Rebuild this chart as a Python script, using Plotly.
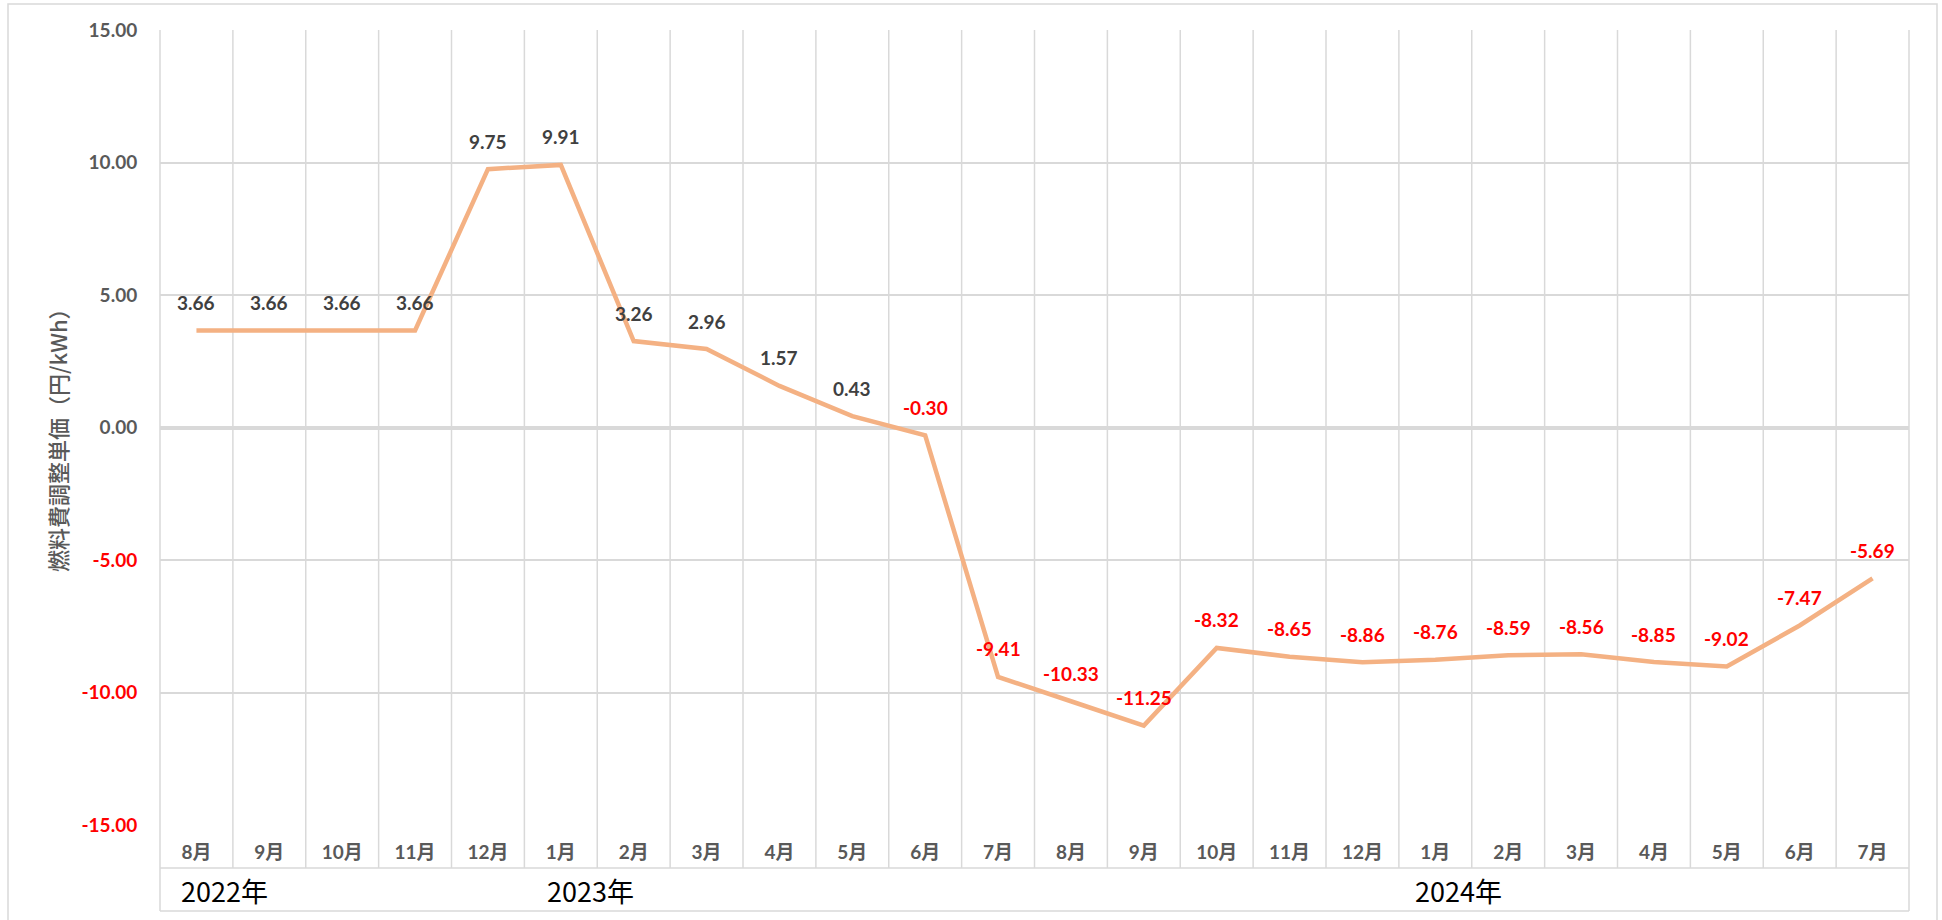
import plotly.graph_objects as go

# ---- data ----
months = ["8月", "9月", "10月", "11月", "12月",
          "1月", "2月", "3月", "4月", "5月", "6月", "7月", "8月", "9月", "10月", "11月", "12月",
          "1月", "2月", "3月", "4月", "5月", "6月", "7月"]
values = [3.66, 3.66, 3.66, 3.66, 9.75,
          9.91, 3.26, 2.96, 1.57, 0.43, -0.30, -9.41, -10.33, -11.25, -8.32, -8.65, -8.86,
          -8.76, -8.59, -8.56, -8.85, -9.02, -7.47, -5.69]
year_labels = ["2022年", "2023年", "2024年"]
y_ticks = [15, 10, 5, 0, -5, -10, -15]
y_title = "燃料費調整単価（円/kWh）"

# ---- layout geometry (pixels) ----
W, H = 1942, 920
L, R, T, B = 160, 1909, 30, 825
pw, ph = R - L, B - T
def px_x(p): return (p - L) / pw
def px_y(p): return (B - p) / ph

year_pos = [224, 590, 1458]
FONT = "Lato, 'Noto Sans CJK JP', sans-serif"
GRID = "#D9D9D9"
RED = "#FF0000"

x = list(range(len(values)))

fig = go.Figure()
fig.add_trace(go.Scatter(
    x=x, y=values, mode="lines",
    line=dict(color="#F4B183", width=4.5),
    hoverinfo="skip", showlegend=False,
))

annotations = []
for i, v in zip(x, values):
    annotations.append(dict(
        x=i, y=v, xref="x", yref="y", text=f"{v:.2f}", showarrow=False,
        yshift=28, xanchor="center", yanchor="middle",
        font=dict(family=FONT, size=19, color=RED if v < 0 else "#404040", weight="bold"),
    ))
for lbl, p in zip(year_labels, year_pos):
    annotations.append(dict(
        x=px_x(p), y=px_y(890), xref="paper", yref="paper", text=lbl, showarrow=False,
        xanchor="center", yanchor="middle",
        font=dict(family="'Noto Sans CJK JP', sans-serif", size=27, color="#000000"),
    ))
annotations.append(dict(
    x=px_x(57), y=px_y(435), xref="paper", yref="paper", text=y_title, showarrow=False,
    textangle=-90, xanchor="center", yanchor="middle",
    font=dict(family="'Noto Sans CJK JP', sans-serif", size=22, color="#595959", weight=500),
))

shapes = []
n = len(values)
# interior vertical grid lines (through category row)
for k in range(1, n):
    shapes.append(dict(type="line", xref="x", yref="paper", x0=k - 0.5, x1=k - 0.5,
                       y0=px_y(868), y1=1, line=dict(color=GRID, width=1.5), layer="below"))
# left / right frame lines through year row
for xp in (0, 1):
    shapes.append(dict(type="line", xref="paper", yref="paper", x0=xp, x1=xp,
                       y0=px_y(911), y1=1, line=dict(color=GRID, width=1.5), layer="below"))
# category row bottom and year row bottom
for yp in (868, 911):
    shapes.append(dict(type="line", xref="paper", yref="paper", x0=0, x1=1,
                       y0=px_y(yp), y1=px_y(yp), line=dict(color=GRID, width=1.5), layer="below"))
# outer chart border
shapes.append(dict(type="rect", xref="paper", yref="paper",
                   x0=px_x(8), x1=px_x(1937), y0=px_y(930), y1=px_y(4),
                   line=dict(color=GRID, width=1.5), layer="below"))

ticktext = []
for t in y_ticks:
    s = f"{t:.2f}"
    ticktext.append(f"<span style='color:{RED}'>{s}</span>" if t < 0 else s)

fig.update_layout(
    width=W, height=H, autosize=False,
    margin=dict(l=L, r=W - R, t=T, b=H - B),
    paper_bgcolor="white", plot_bgcolor="white",
    annotations=annotations, shapes=shapes,
    xaxis=dict(range=[-0.5, n - 0.5], tickmode="array", tickvals=x, ticktext=months,
               showgrid=False, zeroline=False, showline=False,
               ticks="outside", ticklen=10, tickcolor="rgba(0,0,0,0)",
               tickfont=dict(family=FONT, size=19, color="#595959", weight="bold"),
               fixedrange=True),
    yaxis=dict(range=[-15, 15], tickmode="array", tickvals=y_ticks, ticktext=ticktext,
               showgrid=True, gridcolor=GRID, gridwidth=1.5,
               zeroline=True, zerolinecolor=GRID, zerolinewidth=4,
               showline=False, ticks="outside", ticklen=18, tickcolor="rgba(0,0,0,0)",
               tickfont=dict(family=FONT, size=19, color="#595959", weight="bold"),
               fixedrange=True),
)

fig.write_html("out.html", config={"displayModeBar": False},
               post_script="document.body.style.margin='0';document.body.style.overflow='hidden';")
